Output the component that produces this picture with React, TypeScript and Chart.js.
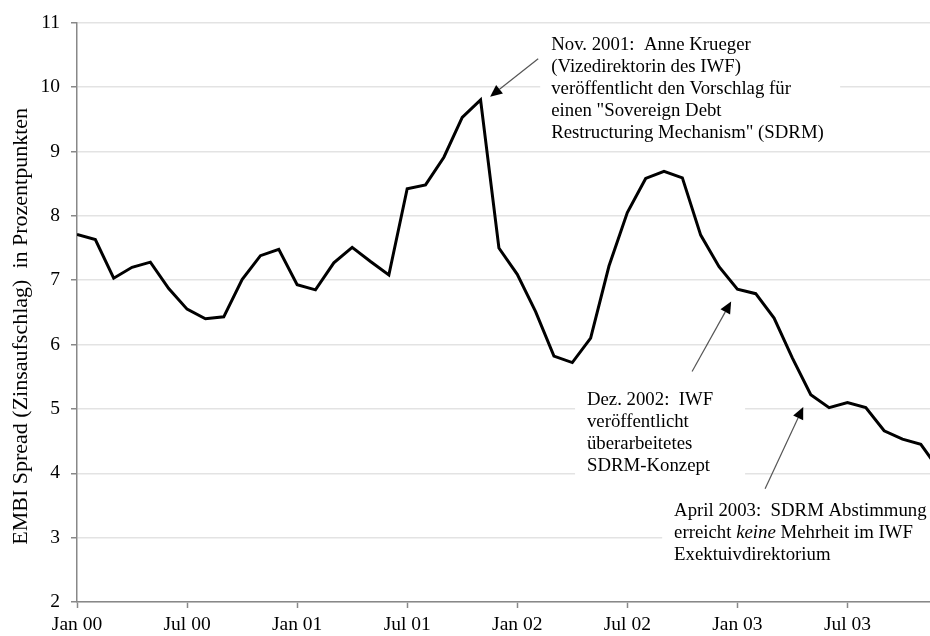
import React, { useEffect, useRef } from 'react';
import { Chart, registerables } from 'chart.js';
Chart.register(...registerables);

const monthNames = ['Jan', 'Feb', 'Mar', 'Apr', 'May', 'Jun', 'Jul', 'Aug', 'Sep', 'Oct', 'Nov', 'Dec'];
const years = ['00', '01', '02', '03'];
const monthLabels = years.flatMap((y) => monthNames.map((m) => `${m} ${y}`));

// EMBI spread (percentage points), monthly from Jan 00
const spread = [
  7.71, 7.63, 7.03, 7.2, 7.28, 6.87, 6.55, 6.4, 6.43, 7.01, 7.38, 7.48,
  6.93, 6.85, 7.27, 7.51, 7.29, 7.08, 8.42, 8.48, 8.91, 9.53, 9.8, 7.5,
  7.09, 6.51, 5.82, 5.72, 6.1, 7.22, 8.05, 8.58, 8.69, 8.59, 7.7, 7.21,
  6.86, 6.79, 6.41, 5.79, 5.22, 5.02, 5.1, 5.02, 4.66, 4.53, 4.45, 4.05,
];

const tickLabels = ['Jan 00', 'Jul 00', 'Jan 01', 'Jul 01', 'Jan 02', 'Jul 02', 'Jan 03', 'Jul 03'];
const yTitle = 'EMBI Spread (Zinsaufschlag)  in Prozentpunkten';

type Seg = { t: string; italic?: boolean };
type Note = {
  lines: Seg[][];
  textX: number; // month index
  textY: number; // value of first line center
  box: [number, number, number, number]; // x0, y0(top value), x1, y1(bottom value)
  arrowFrom: [number, number];
  arrowTo: [number, number];
};

const notes: Note[] = [
  {
    lines: [
      [{ t: 'Nov. 2001:  Anne Krueger' }],
      [{ t: '(Vizedirektorin des IWF)' }],
      [{ t: 'veröffentlicht den Vorschlag für' }],
      [{ t: 'einen "Sovereign Debt' }],
      [{ t: 'Restructuring Mechanism" (SDRM)' }],
    ],
    textX: 25.85,
    textY: 10.65,
    box: [25.25, 10.93, 41.6, 9.07],
    arrowFrom: [25.14, 10.44],
    arrowTo: [22.52, 9.85],
  },
  {
    lines: [
      [{ t: 'Dez. 2002:  IWF' }],
      [{ t: 'veröffentlicht' }],
      [{ t: 'überarbeitetes' }],
      [{ t: 'SDRM-Konzept' }],
    ],
    textX: 27.8,
    textY: 5.13,
    box: [27.15, 5.36, 36.42, 3.89],
    arrowFrom: [33.53, 5.58],
    arrowTo: [35.66, 6.67],
  },
  {
    lines: [
      [{ t: 'April 2003:  SDRM Abstimmung' }],
      [{ t: 'erreicht ' }, { t: 'keine', italic: true }, { t: ' Mehrheit im IWF' }],
      [{ t: 'Exektuivdirektorium' }],
    ],
    textX: 32.55,
    textY: 3.42,
    box: [31.9, 3.7, 46.5, 2.57],
    arrowFrom: [37.51, 3.76],
    arrowTo: [39.59, 5.03],
  },
];

const FONT = '"Liberation Serif", "Times New Roman", serif';
const NOTE_SIZE = 18.8;
const LINE_H = 22;

const notesPlugin = {
  id: 'notes',
  beforeDatasetsDraw(chart: any) {
    const { ctx, scales } = chart;
    const xs = scales.x, ys = scales.y;
    ctx.save();
    ctx.fillStyle = '#ffffff';
    notes.forEach((n) => {
      const x0 = xs.getPixelForValue(n.box[0]);
      const x1 = xs.getPixelForValue(n.box[2]);
      const y0 = ys.getPixelForValue(n.box[1]);
      const y1 = ys.getPixelForValue(n.box[3]);
      ctx.fillRect(x0, y0, x1 - x0, y1 - y0);
    });
    ctx.restore();
  },
  afterDatasetsDraw(chart: any) {
    const { ctx, scales, chartArea } = chart;
    const xs = scales.x, ys = scales.y;
    ctx.save();
    // y axis title
    ctx.fillStyle = '#000';
    ctx.font = `22px ${FONT}`;
    ctx.textAlign = 'center';
    ctx.textBaseline = 'middle';
    ctx.translate(21, (chartArea.top + chartArea.bottom) / 2 + 14);
    ctx.rotate(-Math.PI / 2);
    ctx.fillText(yTitle, 0, 0);
    ctx.restore();

    ctx.save();
    notes.forEach((n) => {
      ctx.fillStyle = '#000';
      ctx.textBaseline = 'middle';
      ctx.textAlign = 'left';
      const tx = xs.getPixelForValue(n.textX);
      const ty = ys.getPixelForValue(n.textY);
      n.lines.forEach((segs, i) => {
        let x = tx;
        segs.forEach((s) => {
          ctx.font = `${s.italic ? 'italic ' : ''}${NOTE_SIZE}px ${FONT}`;
          ctx.fillText(s.t, x, ty + i * LINE_H);
          x += ctx.measureText(s.t).width;
        });
      });
      const ax = xs.getPixelForValue(n.arrowFrom[0]);
      const ay = ys.getPixelForValue(n.arrowFrom[1]);
      const bx = xs.getPixelForValue(n.arrowTo[0]);
      const by = ys.getPixelForValue(n.arrowTo[1]);
      const ang = Math.atan2(by - ay, bx - ax);
      const headL = 12, headW = 5.5;
      const hx = bx - headL * Math.cos(ang);
      const hy = by - headL * Math.sin(ang);
      ctx.strokeStyle = '#555';
      ctx.lineWidth = 1.2;
      ctx.beginPath();
      ctx.moveTo(ax, ay);
      ctx.lineTo(hx, hy);
      ctx.stroke();
      ctx.fillStyle = '#000';
      ctx.beginPath();
      ctx.moveTo(bx, by);
      ctx.lineTo(hx + headW * Math.sin(ang), hy - headW * Math.cos(ang));
      ctx.lineTo(hx - headW * Math.sin(ang), hy + headW * Math.cos(ang));
      ctx.closePath();
      ctx.fill();
    });
    ctx.restore();
  },
};

export default function App() {
  const ref = useRef<HTMLCanvasElement>(null);
  useEffect(() => {
    document.body.style.margin = '0';
    const canvas = ref.current!;
    const chart = new Chart(canvas, {
      type: 'line',
      data: {
        datasets: [
          {
            label: 'EMBI Spread',
            data: spread.map((v, i) => ({ x: i, y: v })),
            borderColor: '#000',
            borderWidth: 3,
            pointRadius: 0,
            tension: 0,
            fill: false,
          },
        ],
      },
      options: {
        animation: false,
        responsive: false,
        devicePixelRatio: 1,
        layout: { padding: { top: 20, right: 0, bottom: 0, left: 0 } },
        plugins: { legend: { display: false }, tooltip: { enabled: false } },
        scales: {
          x: {
            type: 'linear',
            min: 0,
            max: 46.5,
            afterBuildTicks: (s: any) => {
              s.ticks = tickLabels.map((l) => ({ value: monthLabels.indexOf(l) }));
            },
            afterFit: (s: any) => {
              s.height = 34;
            },
            ticks: {
              callback: (v: any) => monthLabels[Math.round(Number(v))],
              font: { family: FONT, size: 19.5 },
              color: '#000',
              maxRotation: 0,
              autoSkip: false,
              padding: 5,
            },
            grid: { drawOnChartArea: false, drawTicks: true, tickLength: 6, tickColor: '#888', tickWidth: 1.5 },
            border: { color: '#888', width: 1.5 },
          },
          y: {
            min: 2,
            max: 11,
            afterFit: (s: any) => {
              s.width = 77;
            },
            ticks: {
              stepSize: 1,
              font: { family: FONT, size: 19.5 },
              color: '#000',
              padding: 11,
            },
            grid: { color: '#e3e3e3', lineWidth: 1.5, tickColor: '#888', tickLength: 6, tickWidth: 1.5 },
            border: { color: '#888', width: 1.5 },
          },
        },
      },
      plugins: [notesPlugin],
    });
    return () => chart.destroy();
  }, []);
  return (
    <div style={{ width: 930, height: 636 }}>
      <canvas ref={ref} width={930} height={636} style={{ display: 'block' }} />
    </div>
  );
}
